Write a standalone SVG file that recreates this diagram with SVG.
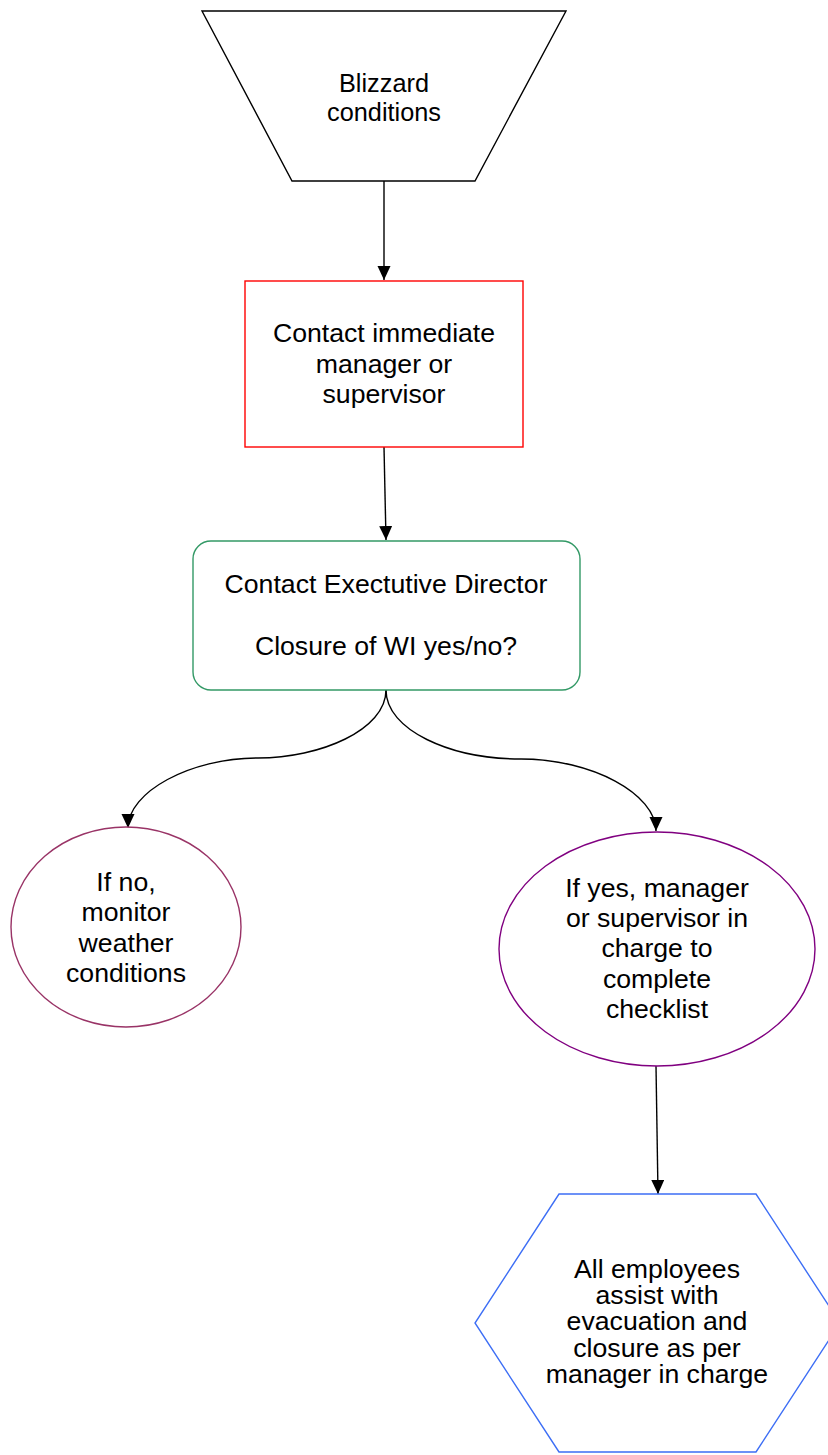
<svg xmlns="http://www.w3.org/2000/svg" width="828" height="1455" viewBox="0 0 828 1455">
<style>
text{font-family:"Liberation Sans",Arial,sans-serif;font-size:26.67px;fill:#000;text-anchor:middle}
.shape{fill:#fff;stroke-width:1.4}
.conn{fill:none;stroke:#000;stroke-width:1.4}
</style>
<defs>
<marker id="arr" markerUnits="userSpaceOnUse" markerWidth="15" markerHeight="14" refX="14" refY="6.5" orient="auto" viewBox="0 0 15 14">
<path d="M0,0 L14,6.5 L0,13 z" fill="#000"/>
</marker>
</defs>
<rect width="828" height="1455" fill="#fff"/>
<g id="connectors">
<path class="conn" d="M384,181 L384,280" marker-end="url(#arr)"/>
<path class="conn" d="M384,447 L386,540" marker-end="url(#arr)"/>
<path class="conn" d="M386,690 C386,730 320,758 258,758 C190,758 128,792 128,828" marker-end="url(#arr)"/>
<path class="conn" d="M386,690 C386,730 450,759 521,759 C592,759 656,794 656,831" marker-end="url(#arr)"/>
<path class="conn" d="M656,1066 L658,1194" marker-end="url(#arr)"/>
</g>
<g id="blizzard">
<polygon class="shape" stroke="#000" points="202,11 566,11 475,181 292,181"/>
<text x="384" y="92" style="font-size:25.3px">Blizzard</text>
<text x="384" y="121" style="font-size:25.3px">conditions</text>
</g>
<g id="contact-manager">
<rect class="shape" stroke="#ff0000" x="245" y="281" width="278" height="166"/>
<text x="384" y="342">Contact immediate</text>
<text x="384" y="373">manager or</text>
<text x="384" y="403">supervisor</text>
</g>
<g id="contact-director">
<rect class="shape" stroke="#339966" x="193" y="541" width="387" height="149" rx="18" ry="18"/>
<text x="386" y="593">Contact Exectutive Director</text>
<text x="386" y="655">Closure of WI yes/no?</text>
</g>
<g id="if-no">
<ellipse class="shape" stroke="#993366" cx="126" cy="927" rx="115" ry="100"/>
<text x="126" y="891">If no,</text>
<text x="126" y="921">monitor</text>
<text x="126" y="952">weather</text>
<text x="126" y="982">conditions</text>
</g>
<g id="if-yes">
<ellipse class="shape" stroke="#800080" cx="657" cy="949" rx="158" ry="117"/>
<text x="657" y="897">If yes, manager</text>
<text x="657" y="927">or supervisor in</text>
<text x="657" y="957">charge to</text>
<text x="657" y="988">complete</text>
<text x="657" y="1018">checklist</text>
</g>
<g id="all-employees">
<polygon class="shape" stroke="#3d6ef5" points="559,1194 756,1194 840,1323 756,1452 559,1452 475,1323"/>
<text x="657" y="1278">All employees</text>
<text x="657" y="1304">assist with</text>
<text x="657" y="1330">evacuation and</text>
<text x="657" y="1357">closure as per</text>
<text x="657" y="1383">manager in charge</text>
</g>
</svg>
